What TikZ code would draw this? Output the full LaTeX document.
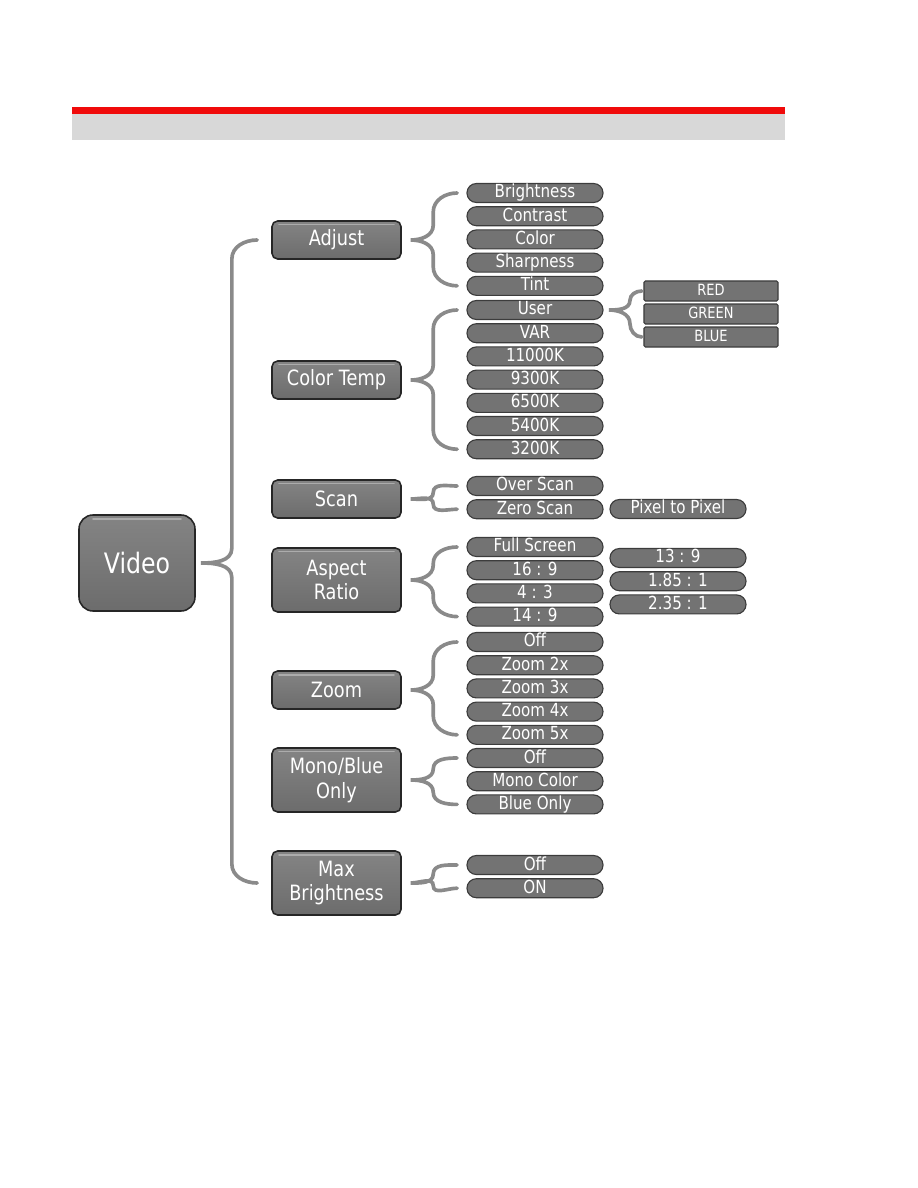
\documentclass[tikz,border=0pt]{standalone}
\usepackage{fontspec}
\setmainfont{DejaVu Sans}[FakeStretch=0.84]
\usetikzlibrary{positioning,calc}
\definecolor{hdred}{RGB}{240,10,10}
\definecolor{hdgray}{RGB}{216,216,216}
\definecolor{boxtop}{RGB}{132,132,132}
\definecolor{boxbot}{RGB}{108,108,108}
\definecolor{boxedge}{RGB}{38,38,38}
\definecolor{boxshine}{RGB}{172,172,172}
\definecolor{pillgray}{RGB}{115,115,115}
\definecolor{bracegray}{RGB}{138,138,138}
\tikzset{
  menubox/.style={rectangle,rounded corners=4pt,draw=boxedge,line width=1.1pt,
    top color=boxtop,bottom color=boxbot,text=white,align=center,
    minimum width=3.225cm,minimum height=0.95cm,inner sep=0pt,
    font=\fontsize{15}{17.5}\selectfont,
    path picture={\draw[boxshine,line width=1.2pt,line cap=round]
      ($(path picture bounding box.north west)+(5pt,-2.6pt)$) --
      ($(path picture bounding box.north east)+(-5pt,-2.6pt)$);}},
  tallbox/.style={menubox,minimum height=1.6cm},
  rootbox/.style={menubox,rounded corners=10pt,minimum width=2.9cm,minimum height=2.4cm,
    font=\fontsize{20}{23}\selectfont,
    path picture={\draw[boxshine,line width=1.4pt,line cap=round]
      ($(path picture bounding box.north west)+(10pt,-3pt)$) --
      ($(path picture bounding box.north east)+(-10pt,-3pt)$);}},
  itempill/.style={rectangle,rounded corners=0.235cm,draw=boxedge!90,line width=0.8pt,
    fill=pillgray,text=white,minimum width=3.4cm,minimum height=0.475cm,inner sep=0pt,
    outer sep=0pt,text height=10.3pt,text depth=3.2pt,font=\fontsize{12.8}{14}\selectfont},
  colorbox/.style={rectangle,rounded corners=1pt,draw=boxedge!90,line width=0.8pt,
    fill=pillgray,text=white,minimum width=3.35cm,minimum height=0.5cm,inner sep=0pt,
    outer sep=0pt,text height=8.5pt,text depth=2.5pt,font=\fontsize{11}{12}\selectfont},
  menubrace/.style={draw=bracegray,line width=2.6pt,line cap=round},
}
% parent, first child, last child, end / stem / tip offsets
\newcommand{\menubrace}[6]{%
  \draw[menubrace] let \p1=(#1.east), \p2=(#2.west), \p3=(#3.west),
    \n1={min(13.5,0.5*(\y2-\y1))}, \n2={min(10.5,0.5*(\y2-\y1))},
    \n3={min(10.5,0.5*(\y1-\y3))}, \n4={min(13.5,0.5*(\y1-\y3))} in
    ({\x2-#4},\y2) to[out=180,in=90] ({\x2-#5},{\y2-\n1*1pt})
    -- ({\x2-#5},{\y1+\n2*1pt}) to[out=-90,in=0] ({\x2-#6},\y1)
    to[out=0,in=90] ({\x2-#5},{\y1-\n3*1pt})
    -- ({\x2-#5},{\y3+\n4*1pt}) to[out=-90,in=180] ({\x2-#4},\y3);}

\begin{document}
\begin{tikzpicture}[x=0.025cm,y=-0.025cm]
  \useasboundingbox (0,0) rectangle (918,1188);
  % header bar
  \fill[hdgray] (72,114) rectangle (785,140);
  \fill[hdred] (72,107) rectangle (785,114);

  % root and first level
  \node[rootbox] (video) at (137,563) {Video};
  \node[menubox] (adjust) at (336.5,240) {Adjust};
  \node[menubox] (ctemp) at (336.5,380) {Color Temp};
  \node[menubox] (scan) at (336.5,499) {Scan};
  \node[tallbox] (aspect) at (336.5,580) {Aspect\\Ratio};
  \node[menubox] (zoom) at (336.5,690) {Zoom};
  \node[tallbox] (mono) at (336.5,780) {Mono/Blue\\Only};
  \node[tallbox] (maxbr) at (336.5,883) {Max\\Brightness};

  % Adjust
  \node[itempill] (bright) at (535,193) {Brightness};
  \node[itempill,below=0.105cm of bright] (contrast) {Contrast};
  \node[itempill,below=0.105cm of contrast] (color) {Color};
  \node[itempill,below=0.105cm of color] (sharp) {Sharpness};
  \node[itempill,below=0.105cm of sharp] (tint) {Tint};
  % Color Temp
  \node[itempill] (user) at (535,310) {User};
  \node[itempill,below=0.105cm of user] (var) {VAR};
  \node[itempill,below=0.105cm of var] (k11000) {11000K};
  \node[itempill,below=0.105cm of k11000] (k9300) {9300K};
  \node[itempill,below=0.105cm of k9300] (k6500) {6500K};
  \node[itempill,below=0.105cm of k6500] (k5400) {5400K};
  \node[itempill,below=0.105cm of k5400] (k3200) {3200K};
  % User colours
  \node[colorbox] (red) at (711,291) {RED};
  \node[colorbox,below=0.075cm of red] (green) {GREEN};
  \node[colorbox,below=0.075cm of green] (blue) {BLUE};
  % Scan
  \node[itempill] (over) at (535,486) {Over Scan};
  \node[itempill,below=0.105cm of over] (zero) {Zero Scan};
  \node[itempill] (pixel) at (678,509) {Pixel to Pixel};
  % Aspect Ratio
  \node[itempill] (full) at (535,547) {Full Screen};
  \node[itempill,below=0.105cm of full] (r169) {16 : 9};
  \node[itempill,below=0.105cm of r169] (r43) {4 : 3};
  \node[itempill,below=0.105cm of r43] (r149) {14 : 9};
  \node[itempill] (r139) at (678,558) {13 : 9};
  \node[itempill,below=0.105cm of r139] (r185) {1.85 : 1};
  \node[itempill,below=0.105cm of r185] (r235) {2.35 : 1};
  % Zoom
  \node[itempill] (zoff) at (535,642) {Off};
  \node[itempill,below=0.105cm of zoff] (z2) {Zoom 2x};
  \node[itempill,below=0.105cm of z2] (z3) {Zoom 3x};
  \node[itempill,below=0.105cm of z3] (z4) {Zoom 4x};
  \node[itempill,below=0.105cm of z4] (z5) {Zoom 5x};
  % Mono/Blue Only
  \node[itempill] (moff) at (535,758) {Off};
  \node[itempill,below=0.105cm of moff] (mcolor) {Mono Color};
  \node[itempill,below=0.105cm of mcolor] (mblue) {Blue Only};
  % Max Brightness
  \node[itempill] (boff) at (535,865) {Off};
  \node[itempill,below=0.105cm of boff] (bon) {ON};

  % braces
  \menubrace{video}{adjust}{maxbr}{10pt}{28pt}{50pt}
  \menubrace{adjust}{bright}{tint}{7pt}{24pt}{40pt}
  \menubrace{ctemp}{user}{k3200}{7pt}{24pt}{40pt}
  \menubrace{user}{red}{blue}{1.5pt}{10pt}{25pt}
  \menubrace{scan}{over}{zero}{7pt}{24pt}{40pt}
  \menubrace{aspect}{full}{r149}{7pt}{24pt}{40pt}
  \menubrace{zoom}{zoff}{z5}{7pt}{24pt}{40pt}
  \menubrace{mono}{moff}{mblue}{7pt}{24pt}{40pt}
  \menubrace{maxbr}{boff}{bon}{7pt}{24pt}{40pt}
\end{tikzpicture}
\end{document}
